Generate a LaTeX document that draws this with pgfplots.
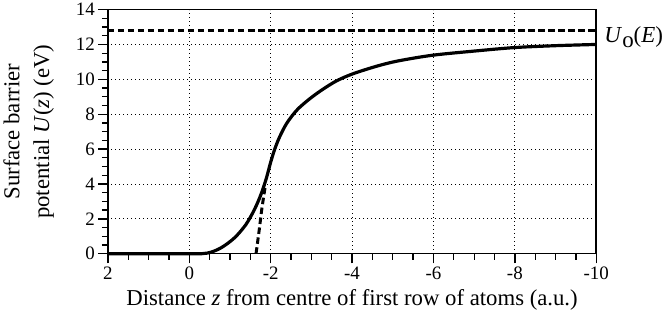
\documentclass[border=0pt]{standalone}
\usepackage{fontspec}
\setmainfont{Liberation Serif}
\usepackage{pgfplots}
\pgfplotsset{compat=1.18}
\begin{document}
\begin{tikzpicture}
\begin{axis}[
  scale only axis,
  width=488bp, height=244bp,
  xmin=-10, xmax=2, ymin=0, ymax=14,
  x dir=reverse,
  axis line style={line width=1.5pt},
  xtick={2,0,-2,-4,-6,-8,-10},
  xticklabels={2,0,-2,-4,-6,-8,-10},
  ytick={0,2,...,14},
  yticklabels={0,2,4,6,8,10,12,14},
  minor x tick num=3,
  minor y tick num=3,
  tick align=outside,
  xtick pos=left, ytick pos=left,
  major tick length=9.5bp, minor tick length=6bp,
  every tick/.append style={black, line width=1.3pt},
  xmajorgrids, ymajorgrids,
  grid style={black, line width=0.8pt, dash pattern=on 0.9bp off 3.1bp},
  tick label style={font=\fontsize{19}{21}\selectfont},
  xlabel={Distance \textit{z} from centre of first row of atoms (a.u.)},
  ylabel={Surface barrier\\potential \textit{U}(\textit{z}) (eV)},
  label style={font=\fontsize{22.8}{30}\selectfont},
  ylabel style={align=center, yshift=15bp},
  xlabel style={inner sep=6bp},
  clip=false,
]
\addplot[black, line width=3.2pt, smooth, tension=0.5] coordinates {
(2,0) (0,0) (-0.45,0.04) (-0.78,0.34) (-1.11,0.91) (-1.39,1.67) (-1.6,2.53)
(-1.76,3.39) (-1.89,4.3) (-2.0,5.25) (-2.1,6.0) (-2.22,6.7) (-2.4,7.5) (-2.67,8.3) (-3.08,9.1)
(-3.57,9.85) (-4.0,10.3) (-4.6,10.75) (-5.12,11.05) (-5.97,11.38) (-7.0,11.62) (-7.98,11.82) (-9.0,11.93) (-10,12.0)
};
\addplot[black, line width=3pt, dash pattern=on 6.5bp off 3.5bp] coordinates {
(2,12.78) (-10,12.78)
};
\addplot[black, line width=3pt, dash pattern=on 6.5bp off 3.5bp, smooth] coordinates {
(-1.64,0) (-1.72,1.39) (-1.78,2.53) (-1.86,3.77)
};
\node[anchor=west, inner sep=0pt, xshift=8bp, font=\fontsize{23}{25}\selectfont] at (axis cs:-10,12.4) {\textit{U}\raisebox{-0.45ex}{o}(\textit{E})};
\end{axis}
\end{tikzpicture}
\end{document}
